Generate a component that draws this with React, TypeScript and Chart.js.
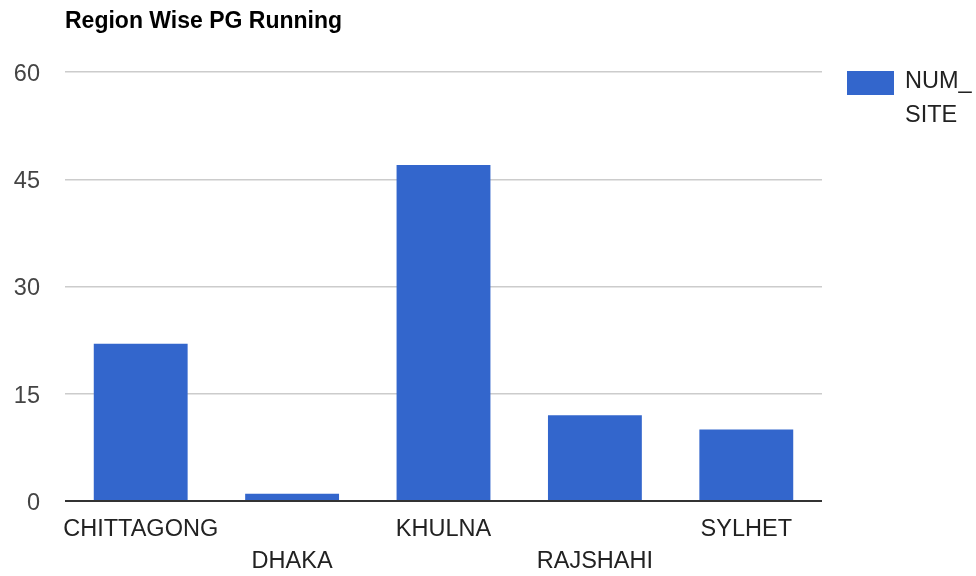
import React, { useEffect, useRef } from "react";
import { Chart, registerables } from "chart.js";

Chart.register(...registerables);

const TITLE = "Region Wise PG Running";
const CATEGORIES = ["CHITTAGONG", "DHAKA", "KHULNA", "RAJSHAHI", "SYLHET"];
const SERIES_LABEL = "NUM_SITE";
const LEGEND_LINES = ["NUM_", "SITE"];
const NUM_SITE = [22, 1, 47, 12, 10];
const Y_MIN = 0;
const Y_MAX = 60;
const Y_STEP = 15;

const BLUE = "#3366cc";
const FONT = "'Liberation Sans', Arial, sans-serif";

const overlayPlugin = {
  id: "overlay",
  afterDraw(chart: any) {
    const ctx = chart.ctx;
    ctx.save();
    ctx.fillStyle = "#000";
    ctx.font = `bold 23px ${FONT}`;
    ctx.textAlign = "left";
    ctx.textBaseline = "alphabetic";
    ctx.fillText(TITLE, 65, 28);

    const area = chart.chartArea;
    const lx = area.right + 25;
    ctx.fillStyle = BLUE;
    ctx.fillRect(lx, 71, 47, 24);
    ctx.fillStyle = "#222";
    ctx.font = `23.5px ${FONT}`;
    ctx.textBaseline = "middle";
    LEGEND_LINES.forEach((t, i) => {
      ctx.fillText(t, lx + 58, 82 + i * 34);
    });
    ctx.restore();
  },
};

export default function App() {
  const ref = useRef<HTMLCanvasElement | null>(null);
  useEffect(() => {
    if (!ref.current) return;
    const chart = new Chart(ref.current, {
      type: "bar",
      data: {
        labels: CATEGORIES,
        datasets: [
          {
            label: SERIES_LABEL,
            data: NUM_SITE,
            backgroundColor: BLUE,
            borderWidth: 0,
            categoryPercentage: 1,
            barPercentage: 0.62,
          },
        ],
      },
      options: {
        animation: false,
        responsive: false,
        maintainAspectRatio: false,
        layout: { padding: { left: 0, right: 154, top: 72, bottom: 0 } },
        plugins: {
          legend: { display: false },
          title: { display: false },
          tooltip: { enabled: false },
        },
        scales: {
          x: {
            grid: { display: false, drawTicks: false },
            border: { display: false },
            ticks: {
              autoSkip: false,
              maxRotation: 0,
              minRotation: 0,
              padding: 13,
              color: "#222",
              font: { family: FONT, size: 23.5, lineHeight: "32px" } as any,
              callback: function (this: any, value: any, index: number) {
                const lbl = CATEGORIES[index];
                return index % 2 === 1 ? ["", lbl] : lbl;
              },
            },
            afterFit(scale: any) {
              scale.height = 75;
            },
          },
          y: {
            min: Y_MIN,
            max: Y_MAX,
            grid: {
              drawTicks: false,
              color: (c: any) => (c.tick && c.tick.value === 0 ? "#333" : "#cccccc"),
              lineWidth: (c: any) => (c.tick && c.tick.value === 0 ? 2 : 1.5),
            },
            border: { display: false },
            ticks: {
              stepSize: Y_STEP,
              padding: 25,
              labelOffset: 2.5,
              color: "#444",
              font: { family: FONT, size: 23.5 },
            },
            afterFit(scale: any) {
              scale.width = 65;
            },
          },
        },
      },
      plugins: [overlayPlugin],
    });
    return () => chart.destroy();
  }, []);
  return (
    <div style={{ position: "fixed", left: 0, top: 0, width: 976, height: 576, background: "#fff" }}>
      <canvas ref={ref} width={976} height={576} style={{ width: 976, height: 576 }} />
    </div>
  );
}
